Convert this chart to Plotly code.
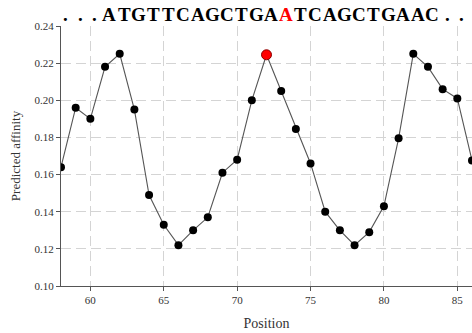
import plotly.graph_objects as go

positions = list(range(58, 87))
affinity = [0.164, 0.196, 0.190, 0.218, 0.225, 0.195, 0.149, 0.133, 0.122, 0.130,
            0.137, 0.161, 0.168, 0.200, 0.2245, 0.205, 0.1845, 0.166, 0.140, 0.130,
            0.122, 0.129, 0.143, 0.1795, 0.225, 0.218, 0.206, 0.201, 0.1676]
highlight_pos = 72
sequence = "...ATGTTCAGCTGAATCAGCTGAAC..."
highlight_char = 15
seq_start = 58.3

hi_val = affinity[positions.index(highlight_pos)]

fig = go.Figure()
fig.add_trace(go.Scatter(
    x=positions, y=affinity, mode="lines+markers",
    line=dict(color="#555555", width=1.1),
    marker=dict(color="black", size=8),
    showlegend=False,
))
fig.add_trace(go.Scatter(
    x=[highlight_pos], y=[hi_val], mode="markers",
    marker=dict(color="red", size=10, line=dict(color="#8b0000", width=1)),
    showlegend=False,
))

for i, ch in enumerate(sequence):
    fig.add_annotation(
        x=seq_start + i, y=1.045, xref="x", yref="paper",
        text=f"<b>{ch}</b>", showarrow=False,
        font=dict(family="Liberation Serif", size=19,
                  color="red" if i == highlight_char else "black"),
        xanchor="center", yanchor="middle",
    )

grid_dash = "10px,5px"
fig.update_xaxes(
    range=[58, 86], tickvals=[60, 65, 70, 75, 80, 85],
    showgrid=True, gridcolor="#d4d4d4", griddash=grid_dash, gridwidth=1,
    showline=True, linecolor="#555555", linewidth=1.2,
    ticks="outside", ticklen=4, tickcolor="#555555",
    zeroline=False,
    tickfont=dict(family="Liberation Serif", size=11, color="#333333"),
    title=dict(text="Position", font=dict(family="Liberation Serif", size=14, color="#333333"), standoff=12),
)
fig.update_yaxes(
    range=[0.10, 0.24], tickvals=[0.10, 0.12, 0.14, 0.16, 0.18, 0.20, 0.22, 0.24],
    tickformat=".2f",
    showgrid=True, gridcolor="#d4d4d4", griddash=grid_dash, gridwidth=1,
    showline=True, linecolor="#555555", linewidth=1.2,
    ticks="outside", ticklen=4, tickcolor="#555555",
    zeroline=False,
    tickfont=dict(family="Liberation Serif", size=11, color="#333333"),
    title=dict(text="Predicted affinity", font=dict(family="Liberation Serif", size=13, color="#333333"), standoff=10),
)
fig.update_layout(
    width=472, height=333,
    margin=dict(l=61, r=0, t=26, b=47),
    plot_bgcolor="white", paper_bgcolor="white",
)
fig.write_html("out.html")
